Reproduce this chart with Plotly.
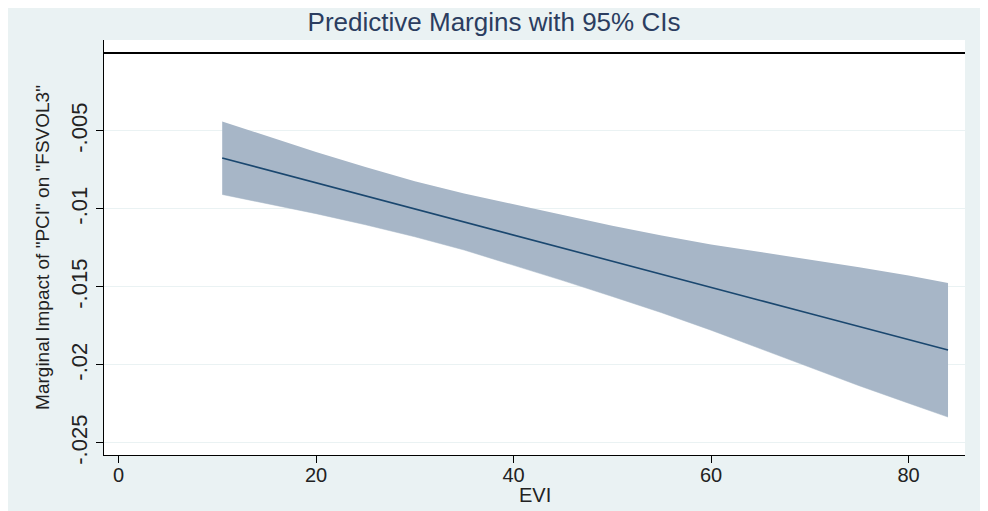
import plotly.graph_objects as go

evi = [10.5, 15, 20, 25, 30, 35, 40, 45, 50, 55, 60, 65, 70, 75, 80, 84]
margin = [-0.00673, -0.00748, -0.00832, -0.00916, -0.01000, -0.01083, -0.01167, -0.01251,
          -0.01335, -0.01418, -0.01502, -0.01586, -0.01670, -0.01753, -0.01837, -0.01904]
ci_upper = [-0.00439, -0.00533, -0.00634, -0.00731, -0.00822, -0.00900, -0.00970, -0.01040,
            -0.01107, -0.01170, -0.01227, -0.01276, -0.01324, -0.01373, -0.01427, -0.01474]
ci_lower = [-0.00907, -0.00963, -0.01030, -0.01101, -0.01178, -0.01263, -0.01359, -0.01459,
            -0.01561, -0.01665, -0.01777, -0.01896, -0.02016, -0.02133, -0.02245, -0.02334]

x_ticks = [0, 20, 40, 60, 80]
y_ticks = [-0.025, -0.02, -0.015, -0.01, -0.005]
y_ticktext = ["-.025", "-.02", "-.015", "-.01", "-.005"]

BG = "#eaf2f3"
BAND = "#a7b6c7"
LINE = "#1a476f"
FONT = "Liberation Sans, Arial, sans-serif"

fig = go.Figure()
fig.add_trace(go.Scatter(x=evi, y=ci_upper, mode="lines", line=dict(width=0, color=BAND),
                         showlegend=False, hoverinfo="skip"))
fig.add_trace(go.Scatter(x=evi, y=ci_lower, mode="lines", line=dict(width=0.5, color=BAND),
                         fill="tonexty", fillcolor=BAND, showlegend=False, hoverinfo="skip"))
fig.add_trace(go.Scatter(x=evi, y=margin, mode="lines", line=dict(width=1.6, color=LINE),
                         showlegend=False))

fig.update_layout(
    width=988, height=511,
    margin=dict(l=96, r=31, t=32, b=64),
    paper_bgcolor=BG, plot_bgcolor="white",
    font=dict(family=FONT, color="#222222"),
    title=dict(text="Predictive Margins with 95% CIs", x=(494 - 8 - 96) / 861, xref="paper",
               xanchor="center", y=0.972, yref="container", yanchor="middle",
               font=dict(size=26, color="#2b3d60", family=FONT)),
    xaxis=dict(range=[-1.47, 85.72], tickvals=x_ticks, showgrid=False, zeroline=False,
               showline=True, linecolor="black", linewidth=1.2, ticks="outside",
               ticklen=7, tickcolor="black", tickfont=dict(size=20),
               ticklabelstandoff=-5),
    yaxis=dict(range=[-0.02577, 0.000833], tickvals=y_ticks, ticktext=y_ticktext,
               tickangle=-90, showgrid=True, gridcolor=BG, gridwidth=1,
               zeroline=True, zerolinecolor="black", zerolinewidth=1.8,
               showline=True, linecolor="black", linewidth=1.2, ticks="outside",
               ticklen=7, tickcolor="black", tickfont=dict(size=22),
               title=dict(text='Marginal Impact of "PCI" on "FSVOL3"', font=dict(size=19),
                          standoff=12)),
    annotations=[dict(text="EVI", x=0.5, xref="paper", y=0, yref="paper",
                      xanchor="center", yanchor="middle", yshift=-40, showarrow=False,
                      font=dict(size=20, color="#222222", family=FONT))],
)

fig.write_html("out.html")
